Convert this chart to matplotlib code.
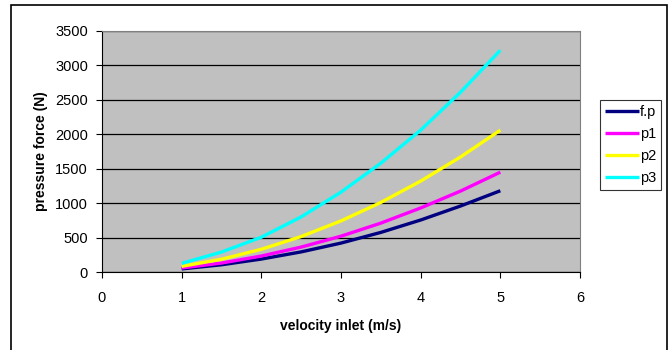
import numpy as np
import matplotlib
matplotlib.use("Agg")
import matplotlib.pyplot as plt
from matplotlib.patches import Rectangle

plt.rcParams['font.family'] = ['Liberation Sans', 'DejaVu Sans']

velocity = [1, 1.5, 2, 2.5, 3, 3.5, 4, 4.5, 5]
fp = [45, 105, 188, 292, 420, 575, 755, 958, 1180]
p1 = [58, 130, 232, 362, 520, 710, 930, 1175, 1450]
p2 = [82, 185, 330, 515, 742, 1010, 1320, 1670, 2060]
p3 = [125, 290, 505, 800, 1160, 1580, 2060, 2610, 3220]

series_names = ["f.p", "p1", "p2", "p3"]
series_colors = ["#000080", "#FF00FF", "#FFFF00", "#00FFFF"]

fig = plt.figure(figsize=(6.71, 3.5), dpi=100)
ax = fig.add_axes([102 / 671, 1 - 272 / 350, 478 / 671, 241 / 350])
ax.set_facecolor("#C0C0C0")

for vals, name, col in zip([fp, p1, p2, p3], series_names, series_colors):
    ax.plot(velocity, vals, color=col, lw=2.4, label=name, solid_capstyle="butt")

ax.set_xlim(0, 6)
ax.set_ylim(0, 3500)
ax.set_xticks(range(0, 7))
ax.set_yticks(range(0, 3501, 500))
ax.yaxis.grid(True, color="black", lw=0.9)
ax.set_axisbelow(True)
ax.tick_params(direction="out", length=4, width=0.8, labelsize=10.5, pad=6)
ax.tick_params(axis="x", pad=10)

for s in ["top", "right"]:
    ax.spines[s].set_color("#808080")
for s in ["left", "bottom"]:
    ax.spines[s].set_color("black")

ax.set_xlabel("velocity inlet (m/s)", fontsize=10, fontweight="bold", labelpad=10)
ax.set_ylabel("pressure force (N)", fontsize=10, fontweight="bold", labelpad=5)

leg = fig.legend(loc="upper left", bbox_to_anchor=(600 / 671, 1 - 100 / 350),
                 fontsize=10.5, frameon=True, fancybox=False, handlelength=2.3,
                 handletextpad=0.1, borderpad=0.35, labelspacing=0.55,
                 borderaxespad=0)
leg.get_frame().set_edgecolor("black")
leg.get_frame().set_linewidth(0.8)

fig.patches.append(Rectangle((11 / 671, -0.05), 656 / 671, 1 - 5 / 350 + 0.05,
                             transform=fig.transFigure, fill=False,
                             edgecolor="black", lw=1.2))

fig.savefig("out.png", dpi=100)
